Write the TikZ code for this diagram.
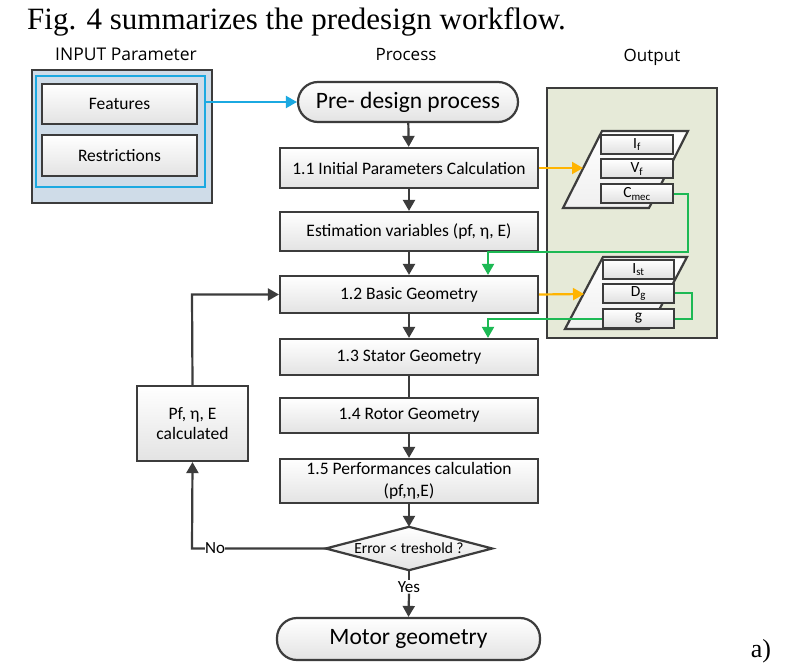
\documentclass[tikz,border=0pt]{standalone}
\usepackage{fontspec}
\setmainfont{Carlito}
\newfontfamily\timesfont{Liberation Serif}
\newfontfamily\headfont{Open Sans}
\usetikzlibrary{arrows.meta}
\definecolor{lin}{HTML}{3C3C3C}
\definecolor{cyanc}{HTML}{1BA9E1}
\definecolor{orangec}{HTML}{FFB400}
\definecolor{greenc}{HTML}{1DB954}
\definecolor{inbg}{HTML}{CFDCE8}
\definecolor{outbg}{HTML}{E6EAD8}
\tikzset{
  boxst/.style={draw=lin, line width=2.2pt, top color=white, bottom color=gray!22, inner sep=0pt, font=\fontsize{17.5}{20}\selectfont, align=center},
  termst/.style={boxst, rounded corners=20pt, font=\fontsize{23.5}{26}\selectfont},
  smallbox/.style={draw=lin, line width=2pt, top color=white, bottom color=gray!25, minimum width=71pt, minimum height=19pt, inner sep=0pt, font=\fontsize{15.5}{16}\selectfont},
  flow/.style={draw=lin, line width=2.2pt, -{Triangle[length=11pt,width=12pt]}},
  flowplain/.style={draw=lin, line width=2.2pt},
  cyanarr/.style={draw=cyanc, line width=2.2pt, -{Triangle[length=11pt,width=12pt]}},
  orarr/.style={draw=orangec, line width=2.2pt, -{Triangle[length=11pt,width=12pt]}},
  grarr/.style={draw=greenc, line width=2pt, -{Triangle[length=11pt,width=12pt]}},
  grline/.style={draw=greenc, line width=2pt},
  headst/.style={font=\headfont\fontsize{17}{19}\selectfont}
}
\begin{document}
\begin{tikzpicture}[x=1pt,y=-1pt]
\useasboundingbox[fill=white] (0,0) rectangle (809,671);
% title
\node[anchor=base west, inner sep=0pt, font=\timesfont\fontsize{31}{34}\selectfont] (title) at (27,30) {Fig. 4 summarizes the predesign workflow.};
% headers
\node[headst, font=\headfont\fontsize{17.5}{20}\selectfont] (hin) at (126,54) {INPUT Parameter};
\node[headst] (hpr) at (406,55) {Process};
\node[headst] (hout) at (652,57) {Output};
% input panel
\node[draw=lin, line width=2.2pt, fill=inbg, minimum width=180pt, minimum height=133pt, inner sep=0pt] (inpanel) at (122,136.5) {};
\node[draw=cyanc, line width=2.4pt, minimum width=169pt, minimum height=111pt, inner sep=0pt] (incyan) at (120.5,131.5) {};
\node[boxst, minimum width=155pt, minimum height=40pt] (feat) at (119.5,104) {Features};
\node[boxst, minimum width=155pt, minimum height=41pt] (restr) at (119.5,155.5) {Restrictions};
% output panel
\node[draw=lin, line width=2.2pt, fill=outbg, minimum width=170pt, minimum height=250pt, inner sep=0pt] (outpanel) at (632,213) {};
\draw[draw=lin, line width=2.2pt, top color=white, bottom color=gray!12] (602,131) -- (688,131) -- (649,208) -- (563,208) -- cycle;
\draw[draw=lin, line width=2.2pt, top color=white, bottom color=gray!12] (603,257) -- (687,257) -- (649,329) -- (565,329) -- cycle;
\coordinate (par1w) at (583,168);
\coordinate (par2w) at (584,294);
\node[smallbox, minimum width=72pt] (If) at (637,144.5) {I\textsubscript{f}};
\node[smallbox, minimum width=72pt] (Vf) at (637,169) {V\textsubscript{f}};
\node[smallbox, minimum width=72pt] (Cmec) at (637,194) {C\textsubscript{mec}};
\node[smallbox] (Ist) at (638.5,269.5) {I\textsubscript{st}};
\node[smallbox] (Dg) at (638.5,293.5) {D\textsubscript{g}};
\node[smallbox] (gg) at (638.5,318.5) {g};
% process boxes
\node[termst, minimum width=220pt, minimum height=40pt] (pre) at (408,102) {Pre- design process};
\node[boxst, minimum width=258pt, minimum height=40pt] (p11) at (409,168) {1.1 Initial Parameters Calculation};
\node[boxst, minimum width=258pt, minimum height=39pt] (est) at (409,231.5) {Estimation variables (pf, η, E)};
\node[boxst, minimum width=258pt, minimum height=37pt] (p12) at (409,294.5) {1.2 Basic Geometry};
\node[boxst, minimum width=258pt, minimum height=36pt] (p13) at (409,357) {1.3 Stator Geometry};
\node[boxst, minimum width=258pt, minimum height=35pt] (p14) at (409,415.5) {1.4 Rotor Geometry};
\node[boxst, minimum width=258pt, minimum height=44pt, font=\fontsize{17.5}{21.5}\selectfont] (p15) at (409,481) {1.5 Performances calculation\\(pf,η,E)};
\node[inner sep=0pt, minimum width=166pt, minimum height=43pt] (dia) at (409,548.5) {};
\draw[draw=lin, line width=2.2pt, top color=white, bottom color=gray!22] (dia.north) -- (dia.east) -- (dia.south) -- (dia.west) -- cycle;
\node[inner sep=0pt, font=\fontsize{15.5}{17}\selectfont] (diatext) at (dia.center) {Error < treshold ?};
\node[termst, minimum width=263pt, minimum height=42pt] (motor) at (408.5,639) {Motor geometry};
\node[boxst, minimum width=111pt, minimum height=75pt] (calc) at (192.5,423.5) {Pf, η, E\\calculated};
\node[font=\fontsize{26}{28}\selectfont\timesfont] (alab) at (761,651) {a)};
% flow connectors
\draw[cyanarr] (incyan.east |- pre.west) -- (pre.west);
\draw[flow] (pre) -- (p11);
\draw[flow] (p11) -- (est);
\draw[flow] (est) -- (p12);
\draw[flow] (p12) -- (p13);
\draw[flowplain] (p13) -- (p14);
\draw[flow] (p14) -- (p15);
\draw[flow] (p15.south |- 0,502) -- (dia.north);
\node[fill=white, inner sep=1pt, font=\fontsize{17}{18}\selectfont] (yes) at (409,587) {Yes};
\draw[flowplain] (dia.south) -- (yes.north);
\draw[flow] (yes.south) -- (motor.north);
\coordinate (nocorner) at (192,548.5);
\draw[flow] (dia.west) -- (nocorner) -- (calc.south);
\node[fill=white, inner sep=0.5pt, font=\fontsize{17}{18}\selectfont] (nolab) at (215,548.5) {No};
\coordinate (loopcorner) at (192,294.5);
\draw[flow] (calc.north) -- (loopcorner) -- (p12.west);
% output connectors
\draw[orarr] (p11.east) -- (par1w);
\draw[orarr] (p12.east) -- (par2w);
\coordinate (g1a) at (688,252);
\draw[grarr] (Cmec.east) -| (g1a) -| ([xshift=79pt]p12.north);
\coordinate (g2a) at (692,305);
\draw[grline] (Dg.east) -| (g2a) |- (gg.east);
\draw[grarr] (gg.west) -| ([xshift=79pt]p13.north);
\end{tikzpicture}
\end{document}
